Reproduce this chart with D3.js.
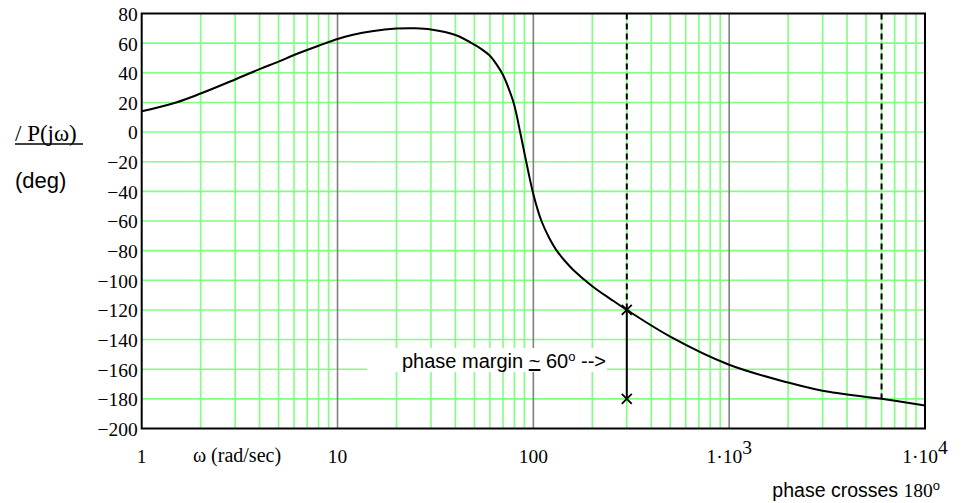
<!DOCTYPE html>
<html>
<head>
<meta charset="utf-8">
<script src="https://cdn.jsdelivr.net/npm/d3@7"></script>
<style>
  body { margin: 0; background: #fff; }
  svg { display: block; }
  .tick-label { font-family: "Liberation Serif", "Times New Roman", serif; font-size: 19.5px; fill: #000; }
  .sans { font-family: "Liberation Sans", Arial, sans-serif; fill: #000; }
</style>
</head>
<body>
<div id="chart"></div>
<script>
// frequency (rad/sec) and phase of P(jw) (deg)
var omega = [1, 1.5, 2, 3, 4, 5, 6, 8, 10, 12, 15, 20, 25, 30, 40, 50, 55, 60, 65, 70, 75, 80, 85, 90, 95, 100,
             105, 110, 120, 130, 145, 160, 200, 250, 300, 500, 1000, 2000, 3000, 6000, 10000];
var phase = [14, 20, 26, 35.5, 42.5, 47.5, 52, 58.2, 62.8, 65.6, 68, 69.8, 70, 69.2, 65.5, 59, 55.5, 51.5, 45.5, 38.5, 29, 18, 2, -14, -29, -42,
             -52, -60, -71, -79, -87, -93, -104, -113, -120, -138, -157, -169, -174.5, -180, -184.5];

// phase margin marker: crossover at w = 300, phase -120 vs -180
var marginOmega = 300;
var marginPhase = [-120, -180];
// phase crosses -180 near w = 6000
var crossOmega = 6000;
var crossPhase = -180;

var yTickValues = [80, 60, 40, 20, 0, -20, -40, -60, -80, -100, -120, -140, -160, -180, -200];
var xTickValues = [1, 10, 100, 1000, 10000];
var xTickLabels = ["1", "10", "100", "1\u00b710|3", "1\u00b710|4"];

var width = 969, height = 503;
var margin = {top: 13.5, right: 44, bottom: 74.5, left: 141.7};
var serif = "'Liberation Serif', 'Times New Roman', serif";

var svg = d3.select("#chart").append("svg")
    .attr("width", width)
    .attr("height", height);

var x = d3.scaleLog().domain([1, 10000]).range([margin.left, width - margin.right]);
var y = d3.scaleLinear().domain([-200, 80]).range([height - margin.bottom, margin.top]);

var green = "#80ff80";

// horizontal grid
svg.append("g").selectAll("line")
    .data(yTickValues.filter(function (d) { return d > -200 && d < 80; }))
    .enter().append("line")
    .attr("x1", x.range()[0]).attr("x2", x.range()[1])
    .attr("y1", function (d) { return y(d); })
    .attr("y2", function (d) { return y(d); })
    .attr("stroke", green).attr("stroke-width", 1.6);

// vertical grid: minor lines green, decades grey
var minor = [];
[1, 10, 100, 1000].forEach(function (dec) {
    for (var k = 2; k <= 9; k++) minor.push(dec * k);
});
svg.append("g").selectAll("line")
    .data(minor)
    .enter().append("line")
    .attr("x1", function (d) { return x(d); })
    .attr("x2", function (d) { return x(d); })
    .attr("y1", y.range()[0]).attr("y2", y.range()[1])
    .attr("stroke", green).attr("stroke-width", 1.6);

svg.append("g").selectAll("line")
    .data([10, 100, 1000])
    .enter().append("line")
    .attr("x1", function (d) { return x(d); })
    .attr("x2", function (d) { return x(d); })
    .attr("y1", y.range()[0]).attr("y2", y.range()[1])
    .attr("stroke", "#808080").attr("stroke-width", 1.6);

// white box behind the phase margin note
svg.append("rect")
    .attr("x", 367).attr("y", 348)
    .attr("width", 240).attr("height", 24)
    .attr("fill", "#fff");

// dashed markers from the top edge down to the curve
svg.append("g").selectAll("line")
    .data([[marginOmega, marginPhase[0]], [crossOmega, crossPhase]])
    .enter().append("line")
    .attr("x1", function (d) { return x(d[0]); })
    .attr("x2", function (d) { return x(d[0]); })
    .attr("y1", y(80))
    .attr("y2", function (d) { return y(d[1]); })
    .attr("stroke", "#000").attr("stroke-width", 2)
    .attr("stroke-dasharray", "6,4");

// solid phase margin bar
svg.append("line")
    .attr("x1", x(marginOmega)).attr("x2", x(marginOmega))
    .attr("y1", y(marginPhase[0])).attr("y2", y(marginPhase[1]))
    .attr("stroke", "#000").attr("stroke-width", 2);

// phase curve
var line = d3.line()
    .x(function (d, i) { return x(omega[i]); })
    .y(function (d) { return y(d); })
    .curve(d3.curveCatmullRom.alpha(0.5));

svg.append("path")
    .datum(phase)
    .attr("d", line)
    .attr("fill", "none")
    .attr("stroke", "#000")
    .attr("stroke-width", 2);

// x markers
var s = 5;
marginPhase.forEach(function (p) {
    var cx = x(marginOmega), cy = y(p);
    svg.append("path")
        .attr("d", "M" + (cx - s) + "," + (cy - s) + "L" + (cx + s) + "," + (cy + s) +
                   "M" + (cx - s) + "," + (cy + s) + "L" + (cx + s) + "," + (cy - s))
        .attr("stroke", "#000").attr("stroke-width", 1.8);
});

// frame
svg.append("rect")
    .attr("x", x.range()[0]).attr("y", y.range()[1])
    .attr("width", x.range()[1] - x.range()[0])
    .attr("height", y.range()[0] - y.range()[1])
    .attr("fill", "none").attr("stroke", "#000").attr("stroke-width", 2);

// y tick labels
svg.append("g")
    .attr("font-family", serif)
    .attr("font-size", 19.5)
    .selectAll("text")
    .data(yTickValues)
    .enter().append("text")
    .style("font-family", serif)
    .attr("x", x.range()[0] - 4)
    .attr("y", function (d) { return y(d); })
    .attr("dy", "0.38em")
    .attr("text-anchor", "end")
    .text(function (d) { return d < 0 ? "\u2212" + (-d) : String(d); });

// x tick labels (with superscript exponents)
var xt = svg.append("g").selectAll("text")
    .data(xTickValues)
    .enter().append("text")
    .attr("class", "tick-label")
    .attr("x", function (d) { return x(d); })
    .attr("y", 463)
    .attr("text-anchor", "middle");
xt.each(function (d, i) {
    var parts = xTickLabels[i].split("|");
    var t = d3.select(this);
    t.append("tspan").text(parts[0]);
    if (parts[1]) {
        t.append("tspan").attr("dy", -9).text(parts[1]);
    }
});

svg.append("text")
    .attr("class", "tick-label")
    .attr("x", 237).attr("y", 462)
    .attr("text-anchor", "middle")
    .style("font-size", "20px")
    .text("\u03c9 (rad/sec)");

// y axis label
svg.append("text")
    .attr("class", "tick-label")
    .attr("x", 15).attr("y", 141)
    .style("font-size", "23px")
    .text("/ P(j\u03c9)");
svg.append("line")
    .attr("x1", 15).attr("x2", 83)
    .attr("y1", 144).attr("y2", 144)
    .attr("stroke", "#000").attr("stroke-width", 1.5);
svg.append("text")
    .attr("class", "sans")
    .attr("x", 15).attr("y", 188)
    .style("font-size", "22px")
    .text("(deg)");

// phase margin note
var note = svg.append("text")
    .attr("class", "sans")
    .attr("x", 402).attr("y", 368)
    .style("font-size", "20px");
note.append("tspan").text("phase margin ");
note.append("tspan").style("text-decoration", "underline").text("~");
note.append("tspan").text(" 60");
note.append("tspan").attr("dy", -7).style("font-size", "13px").text("o");
note.append("tspan").attr("dy", 7).text(" -->");

// phase crosses note
var cross = svg.append("text")
    .attr("class", "sans")
    .attr("x", 940).attr("y", 497)
    .attr("text-anchor", "end")
    .style("font-size", "19.5px");
cross.append("tspan").text("phase crosses ");
cross.append("tspan").style("font-family", serif).text("180");
cross.append("tspan").attr("dy", -7).style("font-size", "13px").text("o");
</script>
</body>
</html>
